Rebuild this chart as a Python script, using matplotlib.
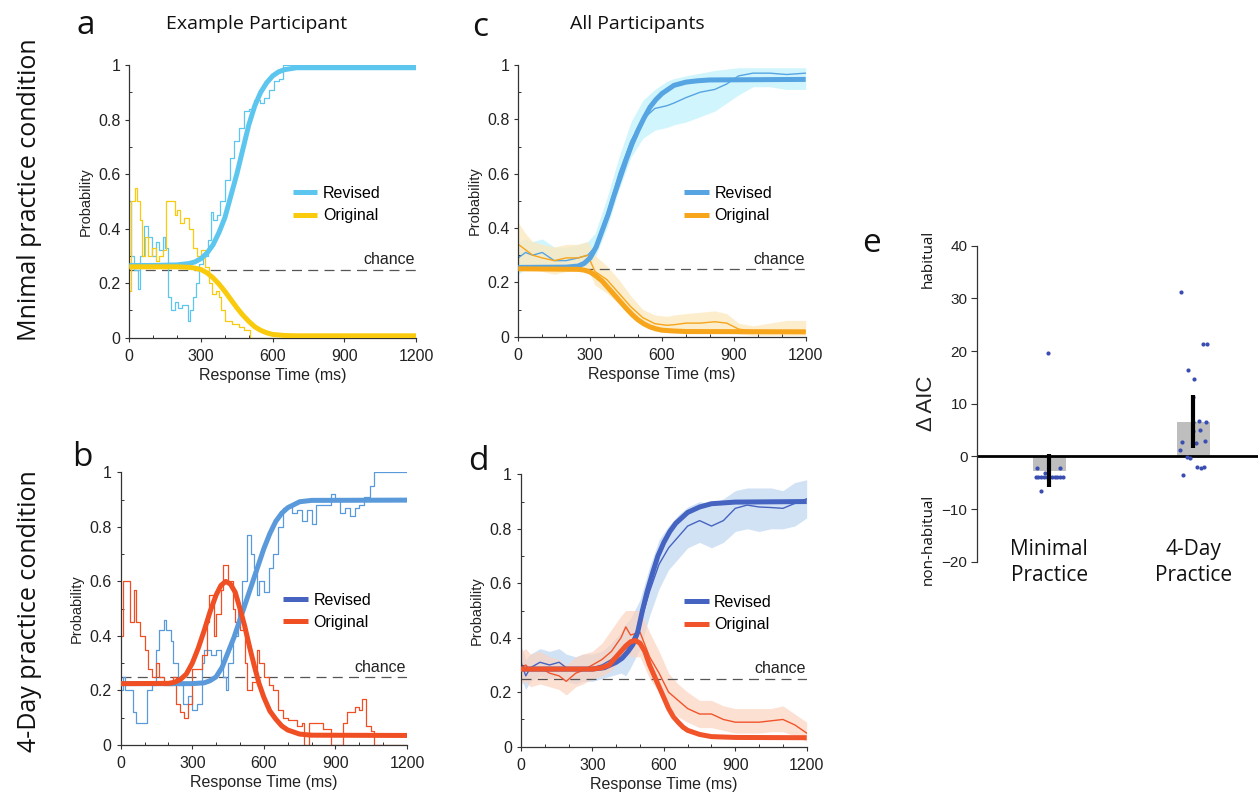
import matplotlib
matplotlib.use("Agg")
import matplotlib.pyplot as plt
from matplotlib.ticker import MultipleLocator

plt.rcParams['font.family'] = ['Liberation Sans', 'DejaVu Sans']
LABEL_FONT = ['Open Sans', 'DejaVu Sans']

W, H = 1258, 801

# ---------------- data ----------------
# panel a: example participant, minimal practice
a_fit_t = [0, 100, 200, 250, 275, 300, 325, 350, 375, 400, 425, 450, 475, 500, 525, 550, 575,
           600, 625, 650, 700, 800, 1200]
a_rev_fit = [0.265, 0.265, 0.267, 0.272, 0.278, 0.29, 0.31, 0.34, 0.385, 0.44, 0.52, 0.60, 0.69,
             0.78, 0.85, 0.90, 0.935, 0.96, 0.975, 0.983, 0.99, 0.99, 0.99]
a_org_fit_t = [0, 200, 250, 275, 300, 325, 350, 375, 400, 425, 450, 475, 500, 525, 550, 575, 600,
               650, 700, 1200]
a_org_fit = [0.26, 0.26, 0.258, 0.255, 0.25, 0.238, 0.22, 0.197, 0.17, 0.14, 0.11, 0.083, 0.06,
             0.04, 0.027, 0.018, 0.012, 0.008, 0.007, 0.007]
a_rev_t = [0, 8, 20, 35, 45, 60, 80, 95, 110, 125, 140, 150, 160, 175, 190, 205, 220, 245, 255,
           265, 278, 292, 310, 330, 340, 352, 365, 380, 400, 420, 440, 460, 480, 500, 520, 545,
           565, 585, 605, 625, 645, 1200]
a_rev = [0.5, 0.3, 0.25, 0.18, 0.3, 0.41, 0.37, 0.3, 0.35, 0.32, 0.37, 0.33, 0.15, 0.1, 0.13, 0.11,
         0.12, 0.06, 0.1, 0.15, 0.2, 0.27, 0.3, 0.36, 0.46, 0.43, 0.45, 0.5, 0.58, 0.66, 0.72, 0.77,
         0.83, 0.84, 0.87, 0.86, 0.88, 0.91, 0.94, 0.95, 1.0, 1.0]
a_org_t = [0, 8, 25, 32, 45, 55, 65, 80, 95, 110, 125, 140, 155, 180, 190, 200, 212, 230, 250,
           268, 285, 300, 318, 335, 348, 362, 375, 385, 400, 430, 460, 480, 505, 1200]
a_org = [0.17, 0.5, 0.55, 0.5, 0.43, 0.3, 0.37, 0.3, 0.33, 0.28, 0.3, 0.32, 0.5, 0.5, 0.45, 0.47,
         0.42, 0.44, 0.4, 0.33, 0.3, 0.32, 0.26, 0.2, 0.16, 0.17, 0.15, 0.1, 0.06, 0.05, 0.04,
         0.03, 0.0, 0.0]

# panel c: all participants, minimal practice
c_rev_fit_t = [0, 200, 250, 275, 300, 325, 350, 375, 400, 425, 450, 475, 500, 525, 550, 575, 600,
               650, 700, 750, 800, 1200]
c_rev_fit = [0.255, 0.256, 0.26, 0.27, 0.29, 0.33, 0.39, 0.45, 0.52, 0.585, 0.65, 0.71, 0.76,
             0.805, 0.845, 0.873, 0.895, 0.925, 0.937, 0.942, 0.945, 0.947]
c_org_fit_t = [0, 250, 275, 300, 325, 350, 375, 400, 425, 450, 475, 500, 525, 550, 575, 600, 650,
               700, 1200]
c_org_fit = [0.25, 0.248, 0.245, 0.238, 0.223, 0.205, 0.18, 0.155, 0.13, 0.105, 0.082, 0.062,
             0.047, 0.036, 0.029, 0.024, 0.021, 0.019, 0.018]
c_t = [0, 30, 60, 100, 150, 200, 250, 290, 320, 370, 420, 470, 520, 570, 620, 650, 700,
       760, 820, 870, 920, 980, 1050, 1120, 1200]
c_rev = [0.29, 0.31, 0.3, 0.31, 0.28, 0.28, 0.29, 0.30, 0.33, 0.45, 0.6, 0.72, 0.8, 0.84, 0.85,
         0.86, 0.88, 0.9, 0.91, 0.93, 0.96, 0.97, 0.97, 0.965, 0.97]
c_rev_lo = [0.23, 0.25, 0.25, 0.26, 0.24, 0.24, 0.25, 0.26, 0.29, 0.4, 0.54, 0.66, 0.73, 0.76, 0.77,
            0.78, 0.79, 0.81, 0.83, 0.86, 0.89, 0.92, 0.92, 0.91, 0.91]
c_rev_hi = [0.35, 0.36, 0.35, 0.36, 0.33, 0.33, 0.34, 0.35, 0.38, 0.51, 0.66, 0.79, 0.87, 0.91, 0.94,
            0.95, 0.96, 0.97, 0.98, 0.985, 0.99, 0.99, 0.99, 0.99, 0.99]
c_org = [0.34, 0.32, 0.3, 0.29, 0.28, 0.29, 0.29, 0.3, 0.24, 0.21, 0.16, 0.11, 0.07, 0.048, 0.042,
         0.044, 0.05, 0.05, 0.055, 0.05, 0.028, 0.02, 0.02, 0.02, 0.02]
c_org_lo = [0.27, 0.26, 0.25, 0.24, 0.23, 0.24, 0.24, 0.25, 0.19, 0.16, 0.12, 0.07, 0.04, 0.02, 0.015,
            0.015, 0.02, 0.02, 0.02, 0.02, 0.01, 0.005, 0.005, 0.005, 0.005]
c_org_hi = [0.42, 0.38, 0.35, 0.34, 0.33, 0.34, 0.34, 0.35, 0.3, 0.26, 0.21, 0.15, 0.1, 0.08, 0.075,
            0.08, 0.085, 0.09, 0.095, 0.085, 0.05, 0.04, 0.05, 0.06, 0.06]

# panel b: example participant, 4-day practice
b_rev_fit_t = [0, 300, 350, 375, 400, 425, 450, 475, 500, 525, 550, 575, 600, 625, 650, 675, 700,
               750, 800, 1200]
b_rev_fit = [0.225, 0.225, 0.228, 0.236, 0.25, 0.285, 0.34, 0.395, 0.46, 0.525, 0.59, 0.655, 0.72,
             0.775, 0.82, 0.85, 0.87, 0.892, 0.897, 0.898]
b_org_fit_t = [0, 200, 225, 250, 275, 300, 325, 350, 375, 400, 420, 440, 460, 480, 500, 520, 540,
               560, 580, 600, 625, 650, 675, 700, 750, 800, 1200]
b_org_fit = [0.225, 0.226, 0.23, 0.24, 0.26, 0.3, 0.355, 0.42, 0.49, 0.55, 0.585, 0.6, 0.59, 0.56,
             0.5, 0.435, 0.36, 0.29, 0.225, 0.175, 0.125, 0.095, 0.07, 0.055, 0.04, 0.036, 0.035]
b_rev_t = [0, 10, 20, 50, 65, 110, 130, 150, 160, 180, 190, 210, 220, 240, 260, 280, 300, 320, 340,
           350, 380, 400, 420, 430, 440, 450, 470, 490, 510, 530, 545, 560, 570, 580, 600, 620, 640,
           660, 680, 700, 720, 740, 760, 780, 800, 820, 860, 880, 900, 920, 940, 960, 980, 1000,
           1020, 1045, 1060, 1200]
b_rev = [0.2, 0.25, 0.2, 0.12, 0.08, 0.2, 0.22, 0.35, 0.42, 0.46, 0.42, 0.38, 0.3, 0.22, 0.15, 0.18,
         0.13, 0.15, 0.3, 0.35, 0.33, 0.35, 0.3, 0.25, 0.2, 0.3, 0.4, 0.5, 0.6, 0.77, 0.7, 0.65, 0.55,
         0.6, 0.56, 0.65, 0.7, 0.8, 0.87, 0.88, 0.85, 0.86, 0.82, 0.86, 0.81, 0.88, 0.88, 0.92, 0.9,
         0.85, 0.87, 0.84, 0.87, 0.88, 0.91, 0.95, 1.0, 1.0]
b_org_t = [0, 10, 30, 40, 55, 65, 80, 100, 115, 130, 150, 160, 180, 220, 230, 250, 265, 280, 300,
           340, 360, 370, 390, 400, 420, 430, 450, 470, 480, 500, 520, 530, 550, 570, 580, 600, 620,
           640, 660, 680, 700, 740, 760, 770, 790, 850, 880, 930, 950, 980, 1000, 1010, 1030, 1050,
           1060, 1200]
b_org = [0.4, 0.6, 0.6, 0.45, 0.57, 0.45, 0.4, 0.35, 0.28, 0.25, 0.3, 0.25, 0.22, 0.25, 0.15, 0.12,
         0.1, 0.15, 0.28, 0.33, 0.45, 0.55, 0.4, 0.48, 0.57, 0.66, 0.6, 0.5, 0.45, 0.42, 0.3, 0.2,
         0.23, 0.35, 0.3, 0.25, 0.22, 0.2, 0.13, 0.1, 0.09, 0.07, 0.08, 0.0, 0.08, 0.06, 0.0, 0.08,
         0.12, 0.14, 0.13, 0.17, 0.07, 0.05, 0.0, 0.0]

# panel d: all participants, 4-day practice
d_rev_fit_t = [0, 300, 350, 400, 425, 450, 470, 490, 510, 530, 550, 575, 600, 625, 650, 700, 750,
               800, 900, 1200]
d_rev_fit = [0.285, 0.285, 0.29, 0.31, 0.325, 0.35, 0.375, 0.42, 0.5, 0.57, 0.63, 0.7, 0.75, 0.79,
             0.82, 0.86, 0.88, 0.892, 0.898, 0.9]
d_org_fit_t = [0, 300, 340, 370, 400, 420, 440, 460, 480, 500, 520, 540, 560, 580, 600, 620, 640,
               660, 680, 700, 750, 800, 900, 1200]
d_org_fit = [0.285, 0.285, 0.29, 0.3, 0.33, 0.35, 0.37, 0.385, 0.39, 0.38, 0.35, 0.3, 0.26, 0.22,
             0.18, 0.14, 0.11, 0.09, 0.072, 0.06, 0.045, 0.037, 0.034, 0.033]
d_t = [0, 20, 40, 80, 120, 160, 190, 230, 260, 300, 340, 380, 420, 440, 460, 500, 540, 580, 620,
       660, 700, 750, 800, 850, 900, 950, 1000, 1050, 1100, 1150, 1200]
d_rev = [0.31, 0.26, 0.29, 0.31, 0.3, 0.31, 0.29, 0.28, 0.29, 0.29, 0.3, 0.32, 0.35, 0.36, 0.38,
         0.45, 0.57, 0.67, 0.73, 0.77, 0.81, 0.83, 0.81, 0.83, 0.875, 0.887, 0.88, 0.878, 0.875,
         0.893, 0.91]
d_rev_lo = [0.25, 0.21, 0.24, 0.26, 0.25, 0.26, 0.24, 0.23, 0.24, 0.24, 0.25, 0.26, 0.27, 0.26,
            0.29, 0.36, 0.48, 0.58, 0.65, 0.69, 0.73, 0.75, 0.73, 0.75, 0.79, 0.8, 0.79, 0.8, 0.8,
            0.81, 0.84]
d_rev_hi = [0.37, 0.32, 0.34, 0.36, 0.35, 0.36, 0.34, 0.33, 0.34, 0.34, 0.35, 0.38, 0.42, 0.45,
            0.47, 0.54, 0.66, 0.76, 0.81, 0.85, 0.88, 0.9, 0.89, 0.91, 0.94, 0.95, 0.95, 0.95, 0.94,
            0.97, 0.98]
d_org = [0.29, 0.3, 0.28, 0.29, 0.27, 0.26, 0.24, 0.27, 0.28, 0.3, 0.32, 0.35, 0.4, 0.44, 0.41,
         0.42, 0.33, 0.27, 0.2, 0.17, 0.14, 0.12, 0.12, 0.1, 0.09, 0.09, 0.09, 0.095, 0.1, 0.08, 0.05]
d_org_lo = [0.23, 0.24, 0.22, 0.23, 0.22, 0.21, 0.19, 0.22, 0.23, 0.25, 0.26, 0.28, 0.32, 0.35,
            0.33, 0.33, 0.25, 0.2, 0.14, 0.11, 0.09, 0.07, 0.07, 0.06, 0.05, 0.05, 0.05, 0.055,
            0.055, 0.04, 0.02]
d_org_hi = [0.35, 0.36, 0.34, 0.35, 0.33, 0.32, 0.3, 0.33, 0.34, 0.35, 0.38, 0.43, 0.48, 0.5, 0.5,
            0.5, 0.42, 0.35, 0.27, 0.23, 0.2, 0.17, 0.17, 0.15, 0.14, 0.14, 0.14, 0.14, 0.15, 0.12,
            0.09]

# panel e: delta AIC per participant
groups = ["Minimal\nPractice", "4-Day\nPractice"]
aic_mean = [-2.7, 6.6]
aic_err = [3.2, 5.1]
min_pts_x = [-0.01, -0.084, 0.072, -0.093, -0.075, -0.056, -0.037, -0.019, 0.0, 0.019, 0.037,
             0.056, 0.075, 0.093, -0.028, -0.06]
min_pts_y = [19.6, -2.2, -2.2, -3.9, -3.9, -3.9, -3.9, -3.9, -3.9, -3.9, -3.9, -3.9, -3.9, -3.9,
             -3.2, -6.5]
day_pts_x = [-0.086, 0.065, 0.097, -0.035, 0.005, -0.002, 0.0, 0.042, 0.09, 0.049, 0.0, 0.084,
             -0.077, 0.016, -0.093, -0.042, -0.019, 0.023, 0.056, 0.072, -0.070]
day_pts_y = [31.3, 21.3, 21.4, 16.4, 14.7, 11.3, 6.5, 6.7, 6.5, 5.0, 4.8, 3.0, 2.7, 2.5, 1.2,
             -0.2, -0.3, -2.0, -2.2, -2.1, -3.6]

# ---------------- helpers ----------------
def px_axes(l, t, r, b):
    return fig.add_axes([l / W, 1 - b / H, (r - l) / W, (b - t) / H])


def style_prob(ax):
    ax.set_xlim(0, 1200)
    ax.set_ylim(0, 1)
    ax.set_xticks([0, 300, 600, 900, 1200])
    ax.set_yticks([0, 0.2, 0.4, 0.6, 0.8, 1.0])
    ax.set_yticklabels(['0', '0.2', '0.4', '0.6', '0.8', '1'])
    ax.xaxis.set_minor_locator(MultipleLocator(100))
    ax.yaxis.set_minor_locator(MultipleLocator(0.1))
    for s in ['top', 'right']:
        ax.spines[s].set_visible(False)
    for s in ['left', 'bottom']:
        ax.spines[s].set_color('#333333')
        ax.spines[s].set_linewidth(0.9)
    ax.tick_params(which='major', direction='out', length=3, width=0.8, colors='#333333',
                   labelsize=11.5, labelcolor='#222222')
    ax.tick_params(which='minor', direction='in', length=2.5, width=0.7, colors='#333333')
    ax.tick_params(axis='x', pad=5)
    ax.set_xlabel('Response Time (ms)', fontsize=11.5, color='#222222', labelpad=3)
    ax.set_ylabel('Probability', fontsize=10.5, color='#222222', labelpad=4)
    ax.axhline(0.25, color='#555555', lw=0.9, ls=(0, (8, 5)), zorder=1)
    ax.text(1195, 0.258, 'chance', ha='right', va='bottom', fontsize=11.5, color='#222222')


def add_legend(ax, h1, h2, x, y):
    ax.legend([h1, h2], ['Revised', 'Original'], loc='upper left', bbox_to_anchor=(x, y),
              frameon=False, fontsize=11.5, handlelength=1.55, handletextpad=0.35,
              labelspacing=0.45, borderpad=0, borderaxespad=0)


fig = plt.figure(figsize=(W / 100, H / 100), dpi=100)

# ---------------- panel a ----------------
ax = px_axes(129.3, 65, 416, 337.7)
ca_rev, ca_org = '#5DC6EF', '#F9CB0C'
ax.plot(a_rev_t, a_rev, color=ca_rev, lw=0.9, drawstyle='steps-post', zorder=2)
ax.plot(a_org_t, a_org, color=ca_org, lw=0.9, drawstyle='steps-post', zorder=2)
l1, = ax.plot(a_fit_t, a_rev_fit, color=ca_rev, lw=3.6, solid_capstyle='butt', zorder=3)
l2, = ax.plot(a_org_fit_t, a_org_fit, color=ca_org, lw=3.6, solid_capstyle='butt', zorder=3)
style_prob(ax)
add_legend(ax, l1, l2, 0.57, 0.556)

# ---------------- panel c ----------------
ax = px_axes(518.3, 65, 805.7, 336.7)
cc_rev, cc_org = '#56A4E2', '#F7A51A'
ax.fill_between(c_t, c_rev_lo, c_rev_hi, color='#C6F3FC', alpha=0.8, lw=0, zorder=1)
ax.fill_between(c_t, c_org_lo, c_org_hi, color='#FCE8BC', alpha=0.75, lw=0, zorder=1)
ax.plot(c_t, c_rev, color=cc_rev, lw=1.0, zorder=2)
ax.plot(c_t, c_org, color=cc_org, lw=1.0, zorder=2)
l1, = ax.plot(c_rev_fit_t, c_rev_fit, color=cc_rev, lw=3.6, solid_capstyle='butt', zorder=3)
l2, = ax.plot(c_org_fit_t, c_org_fit, color=cc_org, lw=3.6, solid_capstyle='butt', zorder=3)
style_prob(ax)
add_legend(ax, l1, l2, 0.577, 0.555)

# ---------------- panel b ----------------
ax = px_axes(120.7, 472.3, 407, 745)
cb_rev, cb_org = '#5B9ADA', '#F04E23'
ax.plot(b_rev_t, b_rev, color=cb_rev, lw=0.9, drawstyle='steps-post', zorder=2)
ax.plot(b_org_t, b_org, color=cb_org, lw=0.9, drawstyle='steps-post', zorder=2)
ax.plot(b_rev_fit_t, b_rev_fit, color=cb_rev, lw=3.6, solid_capstyle='butt', zorder=3)
ax.plot(b_org_fit_t, b_org_fit, color=cb_org, lw=3.6, solid_capstyle='butt', zorder=4)
style_prob(ax)
h1 = plt.Line2D([], [], color='#4663BF', lw=3.6, solid_capstyle='butt')
h2 = plt.Line2D([], [], color=cb_org, lw=3.6, solid_capstyle='butt')
add_legend(ax, h1, h2, 0.567, 0.558)

# ---------------- panel d ----------------
ax = px_axes(521, 474.3, 806.7, 746.7)
cd_rev, cd_org = '#4563C0', '#F1542A'
ax.fill_between(d_t, d_rev_lo, d_rev_hi, color='#C7DBF3', alpha=0.8, lw=0, zorder=1)
ax.fill_between(d_t, d_org_lo, d_org_hi, color='#FBD3C0', alpha=0.7, lw=0, zorder=1)
ax.plot(d_t, d_rev, color=cd_rev, lw=1.0, zorder=2)
ax.plot(d_t, d_org, color=cd_org, lw=1.0, zorder=2)
l1, = ax.plot(d_rev_fit_t, d_rev_fit, color=cd_rev, lw=3.6, solid_capstyle='butt', zorder=3)
l2, = ax.plot(d_org_fit_t, d_org_fit, color=cd_org, lw=3.6, solid_capstyle='butt', zorder=4)
style_prob(ax)
add_legend(ax, l1, l2, 0.57, 0.557)

# ---------------- panel e ----------------
ax = px_axes(977.3, 245.7, 1258, 561.7)
xpos = [1, 2]
ax.bar(xpos, aic_mean, width=0.23, color='#BEBEBE', zorder=1)
ax.axhline(0, color='black', lw=2, zorder=2)
ax.scatter([1 + v for v in min_pts_x], min_pts_y, s=9, color='#3A4DB0', zorder=3, lw=0)
ax.scatter([2 + v for v in day_pts_x], day_pts_y, s=9, color='#3A4DB0', zorder=3, lw=0)
ax.errorbar(xpos, aic_mean, yerr=aic_err, fmt='none', ecolor='black', elinewidth=3,
            capsize=0, zorder=4)
ax.set_xlim(0.5, 2.45)
ax.set_ylim(-20, 40)
ax.set_yticks([-20, -10, 0, 10, 20, 30, 40])
ax.set_xticks([])
for s in ['top', 'right', 'bottom']:
    ax.spines[s].set_visible(False)
ax.spines['left'].set_color('#333333')
ax.spines['left'].set_linewidth(0.9)
ax.tick_params(axis='y', direction='out', length=4, width=0.8, colors='#333333',
               labelsize=11, labelcolor='#222222', pad=3)
for x, g in zip(xpos, groups):
    ax.text(x, -20.1, g, ha='center', va='center', fontsize=15, linespacing=1.3,
            family=LABEL_FONT, color='#111111')

fig.text(926.7 / W, 1 - 403 / H, '\u0394 AIC', rotation=90, ha='center', va='center',
         fontsize=16, color='#222222')
fig.text(928 / W, 1 - 259 / H, 'habitual', rotation=90, ha='center', va='center',
         fontsize=11, family=LABEL_FONT, color='#111111')
fig.text(928 / W, 1 - 539 / H, 'non-habitual', rotation=90, ha='center', va='center',
         fontsize=11, family=LABEL_FONT, color='#111111')

# ---------------- figure labels ----------------
for lab, x, y in [('a', 86, 26), ('c', 480, 28), ('b', 82, 458), ('d', 478, 462), ('e', 872, 243)]:
    fig.text(x / W, 1 - y / H, lab, ha='center', va='center', fontsize=24, family=LABEL_FONT,
             color='#111111')
fig.text(257 / W, 1 - 24 / H, 'Example Participant', ha='center', va='center', fontsize=14,
         family=LABEL_FONT, color='#111111')
fig.text(637 / W, 1 - 24 / H, 'All Participants', ha='center', va='center', fontsize=14,
         family=LABEL_FONT, color='#111111')
fig.text(30 / W, 1 - 190 / H, 'Mnimal practice condition', rotation=90, ha='center',
         va='center', fontsize=18, family=LABEL_FONT, color='#111111')
fig.text(30 / W, 1 - 611 / H, '4-Day practice condition', rotation=90, ha='center',
         va='center', fontsize=18, family=LABEL_FONT, color='#111111')

fig.savefig('out.png', dpi=100)
